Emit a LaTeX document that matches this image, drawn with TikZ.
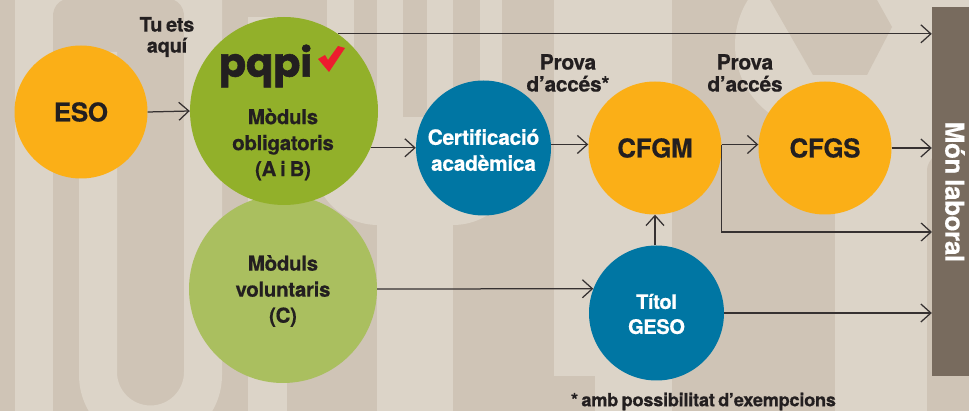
\documentclass[tikz,border=0pt]{standalone}
\usepackage{fontspec}
\setmainfont[LetterSpace=-1.5, WordSpace=0.7, BoldFeatures={FakeBold=0.4}]{TeX Gyre Heros}
\newfontfamily\logofont[FakeBold=1.5]{Poppins}
\usetikzlibrary{arrows.meta}
\definecolor{bglight}{HTML}{DCD4C8}
\definecolor{bgdark}{HTML}{CFC4B6}
\definecolor{barbrown}{HTML}{786B5E}
\definecolor{inkdark}{HTML}{231F20}
\definecolor{orangefill}{HTML}{FBAF17}
\definecolor{greenfill}{HTML}{92B02A}
\definecolor{palegreen}{HTML}{AABF5F}
\definecolor{bluefill}{HTML}{0076A3}
\definecolor{checkred}{HTML}{ED1C2E}
\begin{document}
\begin{tikzpicture}[x=1pt, y=-1pt,
  every node/.style={align=center, text=inkdark, font=\bfseries\fontsize{20.5}{26}\selectfont, inner sep=0pt},
  orangecircle/.style={circle, fill=orangefill, minimum size=133pt, font=\bfseries\fontsize{26}{30}\selectfont},
  greencircle/.style={circle, minimum size=188pt},
  bluecircle/.style={circle, fill=bluefill, minimum size=135pt},
  bluetext/.style={text=white},
  headtext/.style={font=\bfseries\fontsize{21}{22}\selectfont},
  flow/.style={draw=inkdark!90!bglight, line width=1.25pt, -{Straight Barb[length=10pt,width=18pt,line width=1.25pt]}}]

  % Hintergrund
  \useasboundingbox (0,0) rectangle (969,411);
  \fill[bglight] (0,0) rectangle (969,411);
  \fill[bgdark] (0,0) rectangle (15,411);
  \fill[bgdark] (53,411) -- (53,14) .. controls (54,7) and (58,2) .. (63,0) -- (174,0) .. controls (179,2) and (183,7) .. (184,14) -- (184,411) -- cycle;
  \fill[bgdark] (184,375) rectangle (222,411);
  \fill[bgdark] (222,0) rectangle (377,411);
  \fill[bgdark] (453,0) rectangle (554,376);
  \fill[bgdark] (453,376) rectangle (595,411);
  \fill[bgdark] (672,0) rectangle (835,411);
  \fill[bgdark] (927,411) -- (927,170) .. controls (927,165) and (930,160) .. (935,155) -- (969,155) -- (969,411) -- cycle;
  \fill[bglight] (79,52) -- (117,52) -- (117,372) arc[start angle=180, end angle=0, radius=33.5] -- (184,0) -- (222,0) -- (222,375) arc[start angle=0, end angle=180, radius=71.5] -- cycle;
  \fill[bglight] (248,17) rectangle (287,411);
  \fill[bglight] (327,0) rectangle (354,200);
  \fill[bglight] (377,0) rectangle (453,411);
  \fill[bglight] (480,0) rectangle (502,160);
  \fill[bglight] (378,160) circle[radius=65];
  \fill[bglight] (453,160) circle[radius=65];
  \fill[bglight] (820,45) circle[radius=85];
  \fill[bgdark] (354,0) rectangle (377,117);
  \fill[bgdark] (403,0) rectangle (427,117);
  \fill[bgdark] (453,0) rectangle (480,117);
  \fill[bgdark] (502,0) rectangle (554,376);
  \fill[bgdark] (770,0) -- (813,75) -- (867,75) -- (892,27) -- (877,0) -- cycle;

  % Knoten
  \coordinate (xeso) at (81,112);
  \coordinate (xpqpi) at (284,111);
  \coordinate (xvol) at (283,289);
  \coordinate (xcert) at (483.5,148);
  \coordinate (xcfgm) at (655,148);
  \coordinate (xcfgs) at (825,148);
  \coordinate (xgeso) at (656.5,313);
  \coordinate (xlow) at (932,232);
  \node[greencircle, fill=palegreen] (vol) at (xvol) {};
  \node[greencircle, fill=greenfill] (pqpi) at (xpqpi) {};
  \node[orangecircle] (eso) at (xeso) {ESO};
  \node[bluecircle] (cert) at (xcert) {};
  \node[orangecircle] (cfgm) at (xcfgm) {CFGM};
  \node[orangecircle] (cfgs) at (xcfgs) {CFGS};
  \node[bluecircle] (geso) at (xgeso) {};
  \node[fill=barbrown, minimum width=37pt, minimum height=369pt] (bar) at (950.5,191.5) {};

  \node (modvol) at (283,291) {M\`oduls\\voluntaris\\(C)};
  \node (modobl) at (283,144.5) {M\`oduls\\obligatoris\\(A i B)};
  \node[bluetext, font=\bfseries\fontsize{21}{26}\selectfont] (certlabel) at (483.5,150) {Certificaci\'o\\acad\`emica};
  \node[bluetext, font=\bfseries\fontsize{20}{25}\selectfont] (gesolabel) at (656.5,314) {T\'itol\\GESO};
  \node[font=\logofont\bfseries\fontsize{40}{40}\selectfont] (logo) at (265.5,66) {pqpi};
  \fill[checkred] (318,59) -- (325,55) -- (328,60) -- (338,46) -- (345,48) -- (329,72) -- cycle;
  \node[font=\bfseries\fontsize{20}{21}\selectfont] (here) at (167,37) {Tu ets\\aqu\'i};
  \node[headtext] (provaa) at (568,73) {Prova\\d’acc\'es*};
  \node[headtext] (provab) at (745,73) {Prova\\d’acc\'es};
  \node[rotate=-90, text=white, font=\bfseries\fontsize{26}{26}\selectfont] (laboral) at (955,192) {M\'on laboral};
  \node[font=\bfseries\fontsize{18.2}{22}\selectfont] (note) at (703.5,401.5) {* amb possibilitat d’exempcions};

  % Pfeile
  \draw[flow] (eso.east) -- (pqpi.west);
  \draw[flow] (pqpi.55) -- (pqpi.55 -| bar.west);
  \draw[flow] (pqpi.-23) -- (pqpi.-23 -| cert.west);
  \draw[flow] (cert.3) -- (cert.3 -| cfgm.west);
  \draw[flow] (cfgm.3) -- (cfgm.3 -| cfgs.west);
  \draw[flow] (cfgm.3) |- (xlow);
  \draw[flow] (cfgs.east) -- (cfgs.east -| bar.west);
  \draw[flow] (vol.east) -- (geso.159);
  \draw[flow] (geso.east) -- (geso.east -| bar.west);
  \draw[flow] (geso.north -| cfgm.south) -- (cfgm.south);
\end{tikzpicture}
\end{document}
